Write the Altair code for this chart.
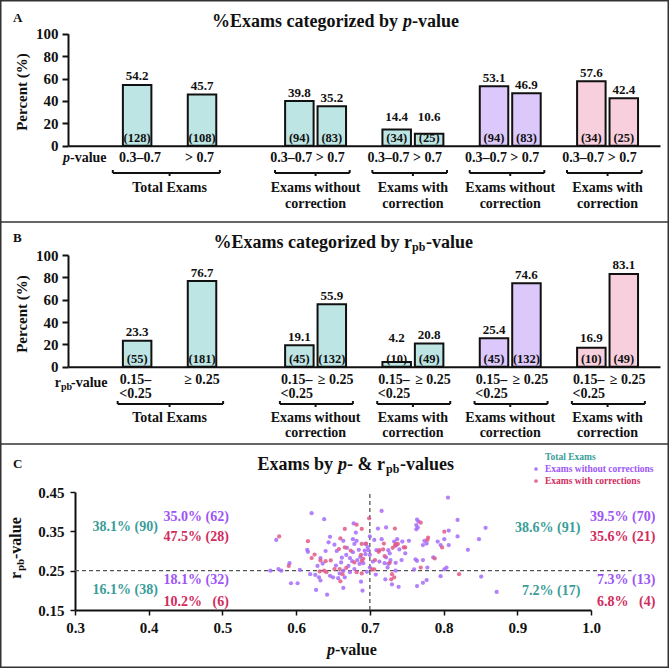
import altair as alt
import pandas as pd

# ---------------- data ----------------
group_names = ["Total Exams", "Exams without\ncorrection", "Exams with\ncorrection",
               "Exams without\ncorrection", "Exams with\ncorrection"]
group_series = ["total", "total", "total", "without", "with"]

p_bins = ["0.3–0.7", "> 0.7"]
p_percent = [54.2, 45.7, 39.8, 35.2, 14.4, 10.6, 53.1, 46.9, 57.6, 42.4]
p_count = [128, 108, 94, 83, 34, 25, 94, 83, 34, 25]

r_bins = ["0.15–\n<0.25", "≥ 0.25"]
r_percent = [23.3, 76.7, 19.1, 55.9, 4.2, 20.8, 25.4, 74.6, 16.9, 83.1]
r_count = [55, 181, 45, 132, 10, 49, 45, 132, 10, 49]

# scatter (p-value, r_pb-value)
without_pts = [
    (0.565, 0.250), (0.573, 0.328), (0.576, 0.254), (0.580, 0.250), (0.591, 0.269), (0.593, 0.218),
    (0.602, 0.218), (0.605, 0.252), (0.615, 0.303), (0.616, 0.298), (0.619, 0.241), (0.621, 0.396),
    (0.626, 0.239), (0.627, 0.201), (0.629, 0.262), (0.631, 0.233), (0.633, 0.282), (0.633, 0.225),
    (0.636, 0.268), (0.638, 0.381), (0.640, 0.300), (0.642, 0.189), (0.644, 0.322), (0.646, 0.336),
    (0.646, 0.237), (0.650, 0.233), (0.652, 0.316), (0.654, 0.263), (0.655, 0.300), (0.657, 0.231),
    (0.659, 0.243), (0.661, 0.271), (0.662, 0.283), (0.664, 0.326), (0.664, 0.250), (0.664, 0.206),
    (0.666, 0.233), (0.668, 0.290), (0.669, 0.308), (0.671, 0.262), (0.673, 0.282), (0.673, 0.246),
    (0.676, 0.274), (0.677, 0.297), (0.677, 0.330), (0.678, 0.370), (0.679, 0.318), (0.679, 0.254),
    (0.681, 0.347), (0.682, 0.326), (0.683, 0.277), (0.685, 0.303), (0.686, 0.267), (0.687, 0.285),
    (0.688, 0.222), (0.690, 0.199), (0.691, 0.269), (0.693, 0.301), (0.694, 0.292), (0.694, 0.318),
    (0.696, 0.247), (0.697, 0.310), (0.698, 0.302), (0.700, 0.290), (0.700, 0.337), (0.700, 0.258),
    (0.704, 0.273), (0.706, 0.328), (0.708, 0.240), (0.709, 0.302), (0.711, 0.357), (0.713, 0.273),
    (0.716, 0.402), (0.716, 0.330), (0.720, 0.269), (0.721, 0.228), (0.722, 0.360), (0.722, 0.284),
    (0.724, 0.258), (0.725, 0.302), (0.725, 0.267), (0.727, 0.294), (0.728, 0.277), (0.730, 0.215),
    (0.733, 0.324), (0.735, 0.270), (0.735, 0.250), (0.736, 0.315), (0.737, 0.330), (0.739, 0.209),
    (0.740, 0.304), (0.743, 0.277), (0.744, 0.324), (0.748, 0.294), (0.753, 0.326), (0.760, 0.253),
    (0.762, 0.279), (0.763, 0.355), (0.763, 0.366), (0.764, 0.380), (0.764, 0.275), (0.764, 0.211),
    (0.765, 0.360), (0.766, 0.375), (0.772, 0.315), (0.772, 0.277), (0.772, 0.219), (0.774, 0.326),
    (0.777, 0.319), (0.777, 0.226), (0.778, 0.258), (0.786, 0.284), (0.792, 0.324), (0.796, 0.315),
    (0.796, 0.236), (0.801, 0.330), (0.801, 0.253), (0.804, 0.258), (0.806, 0.436), (0.807, 0.352),
    (0.807, 0.315), (0.819, 0.379), (0.819, 0.337), (0.833, 0.303), (0.848, 0.330), (0.851, 0.235),
    (0.857, 0.359), (0.872, 0.196),
]
with_pts = [
    (0.577, 0.337), (0.590, 0.262), (0.616, 0.325), (0.621, 0.282), (0.625, 0.291), (0.632, 0.248),
    (0.633, 0.276), (0.638, 0.250), (0.640, 0.274), (0.641, 0.246), (0.647, 0.276), (0.652, 0.254),
    (0.658, 0.305), (0.659, 0.254), (0.660, 0.332), (0.660, 0.223), (0.663, 0.241), (0.666, 0.356),
    (0.666, 0.309), (0.668, 0.257), (0.674, 0.301), (0.679, 0.271), (0.682, 0.367), (0.682, 0.246),
    (0.688, 0.290), (0.689, 0.356), (0.689, 0.275), (0.689, 0.243), (0.689, 0.318), (0.691, 0.280),
    (0.695, 0.319), (0.699, 0.383), (0.703, 0.253), (0.706, 0.253), (0.707, 0.277), (0.712, 0.298),
    (0.713, 0.302), (0.718, 0.304), (0.719, 0.319), (0.720, 0.287), (0.727, 0.270), (0.729, 0.228),
    (0.730, 0.241), (0.731, 0.308), (0.733, 0.233), (0.734, 0.357), (0.734, 0.313), (0.735, 0.318),
    (0.738, 0.318), (0.746, 0.309), (0.748, 0.309), (0.769, 0.372), (0.769, 0.258), (0.778, 0.328),
    (0.779, 0.334), (0.788, 0.281), (0.798, 0.309), (0.801, 0.349), (0.821, 0.241),
]

NB = "\u00a0"
quad_labels = ["38.1% (90)", "35.0% (62)", "47.5% (28)", "16.1% (38)", "18.1% (32)",
               "10.2%" + NB * 3 + "(6)",
               "38.6% (91)", "39.5% (70)", "35.6% (21)", "7.2% (17)", "7.3% (13)",
               "6.8%" + NB * 3 + "(4)"]
quad_series = ["total", "without", "with"] * 4

# ---------------- layout / style ----------------
W, H = 669, 668
SERIF = "Liberation Serif"
INK = "#111111"
BAR_FILL = ["#BDE5E3", "#DCC8FA", "#F8CFDC"]
PT_COL = ["#A46BFA", "#E05A86"]
TXT_COL = ["#3A9D99", "#9D55F7", "#D12C5E"]
SERIES = ["total", "without", "with"]

SLOTS = [(0, 2), (5, 6), (8, 9), (11, 12), (14, 15)]
XDOM = [-1.977, 15.962]
XRANGE = [68, 660]

# quadrant label anchors (right edge p, centre r)
quad_ax = [0.4125, 0.5087, 0.5087, 0.4125, 0.5087, 0.5087,
           0.9856, 1.0873, 1.0873, 0.9856, 1.0873, 1.0873]
quad_ay = [0.361, 0.386, 0.336, 0.201, 0.226, 0.170,
           0.358, 0.386, 0.336, 0.198, 0.226, 0.170]

one = pd.DataFrame({"k": [0]})


def label(text, x, y, size, align="left", baseline="middle", style="normal",
          color=INK, angle=0, weight="bold"):
    return alt.Chart(one).mark_text(
        text=text, font=SERIF, fontSize=size, fontWeight=weight, fontStyle=style,
        align=align, baseline=baseline, color=color, angle=angle
    ).encode(x=alt.value(x), y=alt.value(y))


def bar_panel(bins, pct, cnt, y0, y100, cat_y, cat_base, cat_shift, brace_y, name_y,
              name_lh, b_lo, b_hi):
    rows = []
    for g in range(5):
        for k in range(2):
            i = 2 * g + k
            sh = cat_shift[0 if g == 0 else 1][k]
            rows.append(dict(slot=SLOTS[g][k], cx=SLOTS[g][k] + sh, pct=pct[i], zero=0,
                             val=f"{pct[i]:.1f}", cnt=f"({cnt[i]})",
                             cat=bins[k], series=group_series[g]))
    df = pd.DataFrame(rows)
    grows = []
    for g in range(5):
        a, b = SLOTS[g]
        grows.append(dict(mid=(a + b) / 2, b0=a + b_lo, b1=b + b_hi, name=group_names[g]))
    gdf = pd.DataFrame(grows)

    xaxis = alt.Axis(orient="bottom", offset=y0 - H, labels=False, ticks=False, grid=False,
                     title=None, domainColor=INK, domainWidth=2)
    xscale = alt.Scale(domain=XDOM, range=XRANGE, nice=False, zero=False)

    def X(f):
        return alt.X(f"{f}:Q", scale=xscale, axis=xaxis, title=None)

    yaxis = alt.Axis(orient="left", offset=-68, values=[0, 20, 40, 60, 80, 100], grid=False,
                     title=None, tickSize=6, tickWidth=2, tickColor=INK, domainColor=INK,
                     domainWidth=2, labelFont=SERIF, labelFontSize=15, labelFontWeight="bold",
                     labelColor=INK, labelPadding=4)
    yscale = alt.Scale(domain=[0, 100], range=[y0, y100], nice=False, zero=True)

    def Y(f):
        return alt.Y(f"{f}:Q", scale=yscale, axis=yaxis, title=None)

    base = alt.Chart(df)
    bars = base.mark_bar(size=28.5, orient="vertical", stroke=INK, strokeWidth=2).encode(
        x=X("slot"), y=Y("pct"),
        fill=alt.Fill("series:N", scale=alt.Scale(domain=SERIES, range=BAR_FILL), legend=None))
    vals = base.transform_calculate(ly="max(datum.pct, 18)").mark_text(
        font=SERIF, fontSize=13, fontWeight="bold", color=INK, baseline="alphabetic", dy=-4.5
    ).encode(x=X("slot"), y=Y("ly"), text="val:N")
    cnts = base.mark_text(font=SERIF, fontSize=12.5, fontWeight="bold", color=INK,
                          baseline="alphabetic", dy=-4).encode(x=X("slot"), y=Y("zero"), text="cnt:N")
    cats = base.mark_text(font=SERIF, fontSize=14, fontWeight="bold", color=INK,
                          baseline=cat_base, lineBreak="\n", lineHeight=14).encode(
        x=X("cx"), y=alt.value(cat_y), text="cat:N")

    gbase = alt.Chart(gdf)
    brace = gbase.mark_rule(color=INK, strokeWidth=2).encode(
        x=X("b0"), x2=alt.X2("b1"), y=alt.value(brace_y))
    hook_l = gbase.mark_rule(color=INK, strokeWidth=2).encode(
        x=X("b0"), y=alt.value(brace_y - 3), y2=alt.value(brace_y))
    hook_r = gbase.mark_rule(color=INK, strokeWidth=2).encode(
        x=X("b1"), y=alt.value(brace_y - 3), y2=alt.value(brace_y))
    tip = gbase.mark_rule(color=INK, strokeWidth=2).encode(
        x=X("mid"), y=alt.value(brace_y), y2=alt.value(brace_y + 3))
    names = gbase.mark_text(font=SERIF, fontSize=14, fontWeight="bold", color=INK,
                            baseline="alphabetic", lineBreak="\n", lineHeight=name_lh).encode(
        x=X("mid"), y=alt.value(name_y), text="name:N")

    return alt.layer(bars, vals, cnts, cats, brace, hook_l, hook_r, tip, names)


panel_a = bar_panel(p_bins, p_percent, p_count, 145.7, 33.7, 158, "middle",
                    [(0.09, -0.08), (-0.25, -0.05)], 173, 192, 16, -0.75, 0.55)
panel_b = bar_panel(r_bins, r_percent, r_count, 366.7, 255.0, 372.5, "top",
                    [(-0.05, 0.0), (-0.08, 0.12)], 404, 421.5, 15, -0.6, 0.65)

# ---------------- panel C ----------------
sc_rows = [dict(p=a, r=b, grp="without") for a, b in without_pts] + \
          [dict(p=a, r=b, grp="with") for a, b in with_pts]
sdf = pd.DataFrame(sc_rows)

cx_scale = alt.Scale(domain=[0.3, 1.0], range=[75, 591], nice=False, zero=False)
cy_scale = alt.Scale(domain=[0.15, 0.45], range=[610, 492], nice=False, zero=False)
cx_axis = alt.Axis(orient="bottom", offset=610 - H, values=[0.3, 0.4, 0.5, 0.6, 0.7, 0.8, 0.9, 1.0],
                   format=".1f", grid=False, title=None, tickSize=5, tickWidth=1.5, tickColor=INK,
                   domainColor=INK, domainWidth=2, labelFont=SERIF, labelFontSize=15,
                   labelFontWeight="bold", labelColor=INK, labelPadding=5, labelFlush=False,
                   labelOverlap=False)
cy_axis = alt.Axis(orient="left", offset=-75, values=[0.15, 0.25, 0.35, 0.45], format=".2f",
                   grid=False, title=None, tickSize=5, tickWidth=1.5, tickColor=INK,
                   domainColor=INK, domainWidth=2, labelFont=SERIF, labelFontSize=15,
                   labelFontWeight="bold", labelColor=INK, labelPadding=6)


def CX(f):
    return alt.X(f"{f}:Q", scale=cx_scale, axis=cx_axis, title=None)


def CY(f):
    return alt.Y(f"{f}:Q", scale=cy_scale, axis=cy_axis, title=None)


pts = alt.Chart(sdf).mark_circle(size=18, opacity=0.85).encode(
    x=CX("p"), y=CY("r"),
    fill=alt.Fill("grp:N", scale=alt.Scale(domain=["without", "with"], range=PT_COL), legend=None))

vline = alt.Chart(pd.DataFrame({"p": [0.7], "r0": [0.15], "r1": [0.45]})).mark_rule(
    color="#555555", strokeWidth=1.3, strokeDash=[4, 3]).encode(x=CX("p"), y=CY("r0"), y2=alt.Y2("r1"))
hline = alt.Chart(pd.DataFrame({"r": [0.25], "p0": [0.3], "p1": [1.055]})).mark_rule(
    color="#555555", strokeWidth=1.3, strokeDash=[4, 3]).encode(y=CY("r"), x=CX("p0"), x2=alt.X2("p1"))

qdf = pd.DataFrame({"t": quad_labels, "s": quad_series, "ax": quad_ax, "ay": quad_ay})
quads = alt.Chart(qdf).mark_text(font=SERIF, fontSize=14, fontWeight="bold", align="right",
                                 baseline="middle").encode(
    x=CX("ax"), y=CY("ay"), text="t:N",
    color=alt.Color("s:N", scale=alt.Scale(domain=SERIES, range=TXT_COL), legend=None))

panel_c = alt.layer(vline, hline, pts, quads)

# ---------------- decorations ----------------
frame = alt.Chart(one).mark_rect(fill=None, stroke="#333333", strokeWidth=1.5).encode(
    x=alt.value(0.75), x2=alt.value(668.25), y=alt.value(0.75), y2=alt.value(667.25))
div1 = alt.Chart(one).mark_rule(color="#333333", strokeWidth=1.5).encode(
    x=alt.value(0), x2=alt.value(669), y=alt.value(222))
div2 = alt.Chart(one).mark_rule(color="#333333", strokeWidth=1.5).encode(
    x=alt.value(0), x2=alt.value(669), y=alt.value(444))

decor = [
    frame, div1, div2,
    # panel A
    label("A", 13, 18, 13),
    label("%Exams categorized by", 398, 22, 18, align="right"),
    label("p", 403, 22, 18, style="italic"),
    label("-value", 412, 22, 18),
    label("Percent (%)", 22, 92, 15, align="center", angle=270),
    label("p", 70, 158, 14, align="right", style="italic"),
    label("-value", 70, 158, 14),
    # panel B
    label("B", 13, 238, 13),
    label("%Exams categorized by r", 412, 243, 18, align="right"),
    label("pb", 412, 247, 12),
    label("-value", 426, 243, 18),
    label("Percent (%)", 22, 314, 15, align="center", angle=270),
    label("r", 61, 383, 14, align="right"),
    label("pb", 61, 387, 10),
    label("-value", 71, 383, 14),
    # panel C
    label("C", 13, 464, 13),
    label("Exams by", 333, 465, 18, align="right"),
    label("p", 338, 465, 18, style="italic"),
    label("- & r", 347, 465, 18),
    label("pb", 386, 469, 12),
    label("-values", 400, 465, 18),
    label("p", 335, 650, 16, align="right", style="italic"),
    label("-value", 335, 650, 16),
    label("r", 16, 579, 16, angle=270),
    label("pb", 21, 571, 11, angle=270),
    label("-value", 16, 559, 16, angle=270),
    # legend
    label("Total Exams", 545, 457, 9.5, color=TXT_COL[0]),
    alt.Chart(one).mark_circle(size=14, color=PT_COL[0], opacity=0.9).encode(
        x=alt.value(536), y=alt.value(469)),
    label("Exams without corrections", 545, 469, 9.5, color=TXT_COL[1]),
    alt.Chart(one).mark_circle(size=14, color=PT_COL[1], opacity=0.9).encode(
        x=alt.value(536), y=alt.value(481)),
    label("Exams with corrections", 545, 481, 9.5, color=TXT_COL[2]),
]

chart = alt.layer(panel_a, panel_b, panel_c, *decor).resolve_scale(
    x="independent", y="independent", fill="independent", color="independent"
).properties(
    width=W, height=H, padding=0, background="white",
    autosize=alt.AutoSizeParams(type="none"),
).configure_view(stroke=None)

chart.save("out.html", embed_options={"renderer": "svg", "actions": False})
